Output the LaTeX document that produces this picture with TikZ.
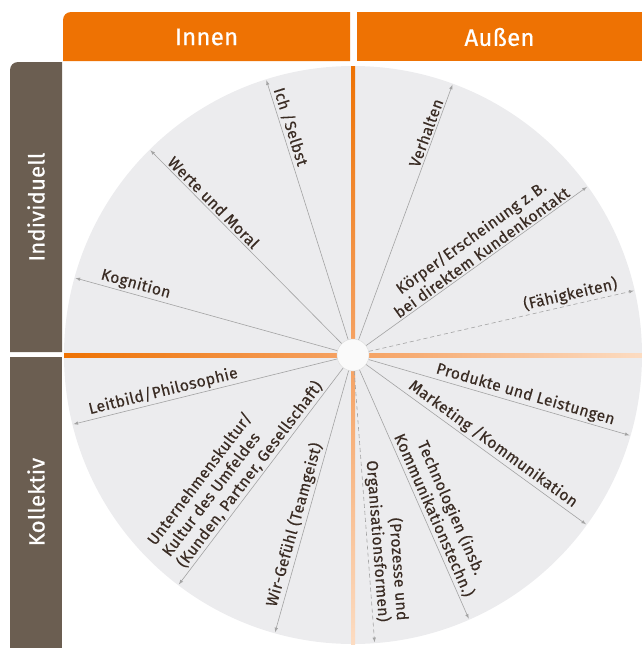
\documentclass[tikz,border=0pt]{standalone}
\usepackage{fontspec}
\setmainfont{Fira Sans}
\newfontfamily\lblfont{Fira Sans}[LetterSpace=2,FakeBold=0.3]
\newfontfamily\headfont{Fira Sans}[LetterSpace=1,FakeBold=0.6]
\usetikzlibrary{calc,positioning}
\definecolor{headorange}{HTML}{EE7203}
\definecolor{sidebrown}{HTML}{6B5E51}
\definecolor{wheelgray}{HTML}{ECECEE}
\definecolor{spokegray}{HTML}{A3A3A3}
\definecolor{labeltext}{HTML}{3A2C24}
\definecolor{lightorange}{HTML}{F5A263}
\definecolor{paleorange}{HTML}{FCDCC2}
\tikzset{
  spoke/.style={draw=spokegray,line width=0.6pt,-latex},
  dspoke/.style={spoke,dash pattern=on 4pt off 3pt},
  lbl/.style={sloped,above,text=labeltext,inner sep=2pt,font=\lblfont\fontsize{15.8}{18.5}\selectfont},
  headtext/.style={text=white,font=\headfont\fontsize{22}{24}\selectfont},
  hubdisc/.style={circle,minimum size=32pt,inner sep=0pt,fill=white!96!gray,draw=gray!25,line width=0.5pt}
}
\begin{document}
\begin{tikzpicture}[x=1pt,y=-1pt]
		\useasboundingbox (0,0) rectangle (642,648);
		% wheel
		\fill[wheelgray] (353,355) circle (289);
		% headers
		\fill[headorange] (63,61) [rounded corners=8pt] -- (63,12) [sharp corners] -- (350,12) -- (350,61) -- cycle;
		\fill[headorange] (357,12) rectangle (642,61);
		\node[headtext,font=\headfont\fontsize{24}{26}\selectfont] (innen) at (206.5,37) {Innen};
		\node[headtext,font=\headfont\fontsize{24}{26}\selectfont] (aussen) at (499.5,37) {Außen};
		% side boxes
		\fill[sidebrown] (10,352) [rounded corners=8pt] -- (10,62) [sharp corners] -- (62,62) -- (62,352) -- cycle;
		\fill[sidebrown] (10,357) rectangle (62,648);
		\node[headtext,rotate=90] (indiv) at (36,207) {Individuell};
		\node[headtext,rotate=90] (kollek) at (36,502) {Kollektiv};
		% axes
		\shade[top color=headorange,bottom color=lightorange] (351,66) rectangle (355,345);
		\shade[left color=headorange,right color=lightorange] (64,353) rectangle (343,357);
		\shade[left color=lightorange,right color=paleorange] (363,353) rectangle (642,357);
		\shade[top color=lightorange,bottom color=paleorange] (351,365) rectangle (355,644);
		% hub
		\node[hubdisc] (hub) at (353,355) {};
		% Innen / individuell
		\coordinate (ich) at ($(hub.center)+(-107.5:288)$);
		\coordinate (werte) at ($(hub.center)+(-134.7:288)$);
		\coordinate (kogn) at ($(hub.center)+(-164.5:288)$);
		\draw[spoke] (hub) -- (ich) node[lbl,pos=0.81] {Ich /Selbst};
		\draw[spoke] (hub) -- (werte) node[lbl,pos=0.70] {Werte und Moral};
		\draw[spoke] (hub) -- (kogn) node[lbl,pos=0.78] {Kognition};
		% Außen / individuell
		\coordinate (verh) at ($(hub.center)+(-69.8:288)$);
		\coordinate (koerp) at ($(hub.center)+(-35.7:288)$);
		\coordinate (faeh) at ($(hub.center)+(-12.9:288)$);
		\draw[spoke] (hub) -- (verh) node[lbl,pos=0.80] {Verhalten};
		\draw[spoke] (hub) -- (koerp) node[lbl,pos=0.545,align=center] {Körper/Erscheinung z.\,B.\\bei direktem Kundenkontakt};
		\draw[dspoke] (hub) -- (faeh) node[lbl,pos=0.77] {(Fähigkeiten)};
		% Innen / kollektiv
		\coordinate (leit) at ($(hub.center)+(166.1:288)$);
		\coordinate (kultur) at ($(hub.center)+(127.2:288)$);
		\coordinate (wir) at ($(hub.center)+(105.7:288)$);
		\draw[spoke] (hub) -- (leit) node[lbl,pos=0.65] {Leitbild/Philosophie};
		\draw[spoke] (hub) -- (kultur) node[lbl,pos=0.52,align=left] {Unternehmenskultur/\\Kultur des Umfeldes\\(Kunden, Partner, Gesellschaft)};
		\draw[spoke] (hub) -- (wir) node[lbl,pos=0.60] {Wir-Gefühl (Teamgeist)};
		% Außen / kollektiv
		\coordinate (prod) at ($(hub.center)+(16.2:288)$);
		\coordinate (mark) at ($(hub.center)+(36:288)$);
		\coordinate (tech) at ($(hub.center)+(66.3:288)$);
		\coordinate (proz) at ($(hub.center)+(85.7:288)$);
		\draw[spoke] (hub) -- (prod) node[lbl,pos=0.59] {Produkte und Leistungen};
		\draw[spoke] (hub) -- (mark) node[lbl,pos=0.55] {Marketing /Kommunikation};
		\draw[spoke] (hub) -- (tech) node[lbl,pos=0.60,align=center] {Technologien (insb.\\Kommunikationstechn.)};
		\draw[dspoke] (hub) -- (proz) node[lbl,pos=0.63,align=right] {(Prozesse und\\Organisationsformen)};
		\end{tikzpicture}
\end{document}
